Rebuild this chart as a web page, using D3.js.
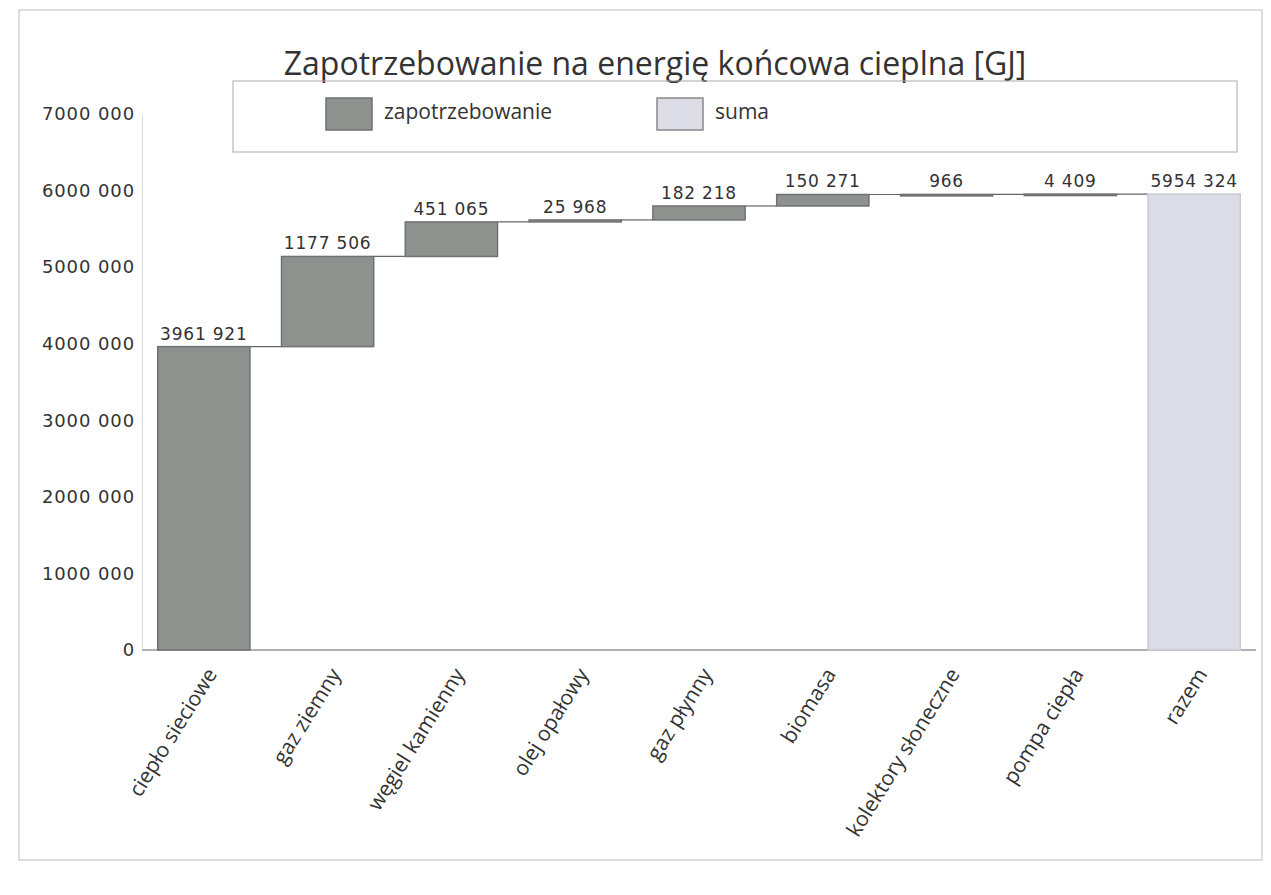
<!DOCTYPE html>
<html>
<head>
<meta charset="utf-8">
<script src="https://cdn.jsdelivr.net/npm/d3@7"></script>
<style>
body { margin: 0; background: #fff; }
text { font-family: "Open Sans", "Noto Sans", sans-serif; fill: #333; }
.num { font-family: "DejaVu Sans", Verdana, sans-serif; }
</style>
</head>
<body>
<script>
const categories = ["ciepło sieciowe", "gaz ziemny", "węgiel kamienny", "olej opałowy", "gaz płynny", "biomasa", "kolektory słoneczne", "pompa ciepła", "razem"];
const values = [3961921, 1177506, 451065, 25968, 182218, 150271, 966, 4409];
const yTicks = [0, 1000000, 2000000, 3000000, 4000000, 5000000, 6000000, 7000000];
const legendLabels = ["zapotrzebowanie", "suma"];

const width = 1271, height = 895;
const margin = { left: 142, right: 15, top: 114, bottom: 245 };

// build waterfall steps
let run = 0;
const steps = values.map((v, i) => {
    const s = { cat: categories[i], start: run, end: run + v, value: v, total: false };
    run += v;
    return s;
});
steps.push({ cat: categories[categories.length - 1], start: 0, end: run, value: run, total: true });

// Excel-ish "### ###" format
function fmt(v) {
    if (v < 1000) return String(v);
    return Math.floor(v / 1000) + " " + String(v % 1000).padStart(3, "0");
}

const svg = d3.select("body").append("svg")
    .attr("width", width).attr("height", height);

svg.append("rect")
    .attr("x", 19).attr("y", 10).attr("width", 1243).attr("height", 850)
    .attr("fill", "none").attr("stroke", "#bbb");

const x = d3.scaleBand().domain(categories)
    .range([margin.left, width - margin.right])
    .paddingInner(0.255).paddingOuter(0.127);
const y = d3.scaleLinear().domain([0, 7000000])
    .range([650, margin.top]);

// y axis labels
const yAxis = svg.append("g").attr("transform", `translate(${margin.left},0)`)
    .call(d3.axisLeft(y).tickValues(yTicks).tickFormat(fmt).tickSize(0).tickPadding(7));
yAxis.select(".domain").attr("stroke", "#ddd");
yAxis.selectAll("text").attr("class", "num")
    .style("font-size", "18px").style("letter-spacing", "0.9px").attr("fill", "#333");

// x baseline
svg.append("line")
    .attr("x1", margin.left).attr("x2", width - margin.right)
    .attr("y1", y(0)).attr("y2", y(0))
    .attr("stroke", "#999").attr("stroke-width", 1.5);

// connectors
svg.append("g").selectAll("line")
    .data(steps.slice(0, -1))
    .enter().append("line")
    .attr("x1", d => x(d.cat) + x.bandwidth())
    .attr("x2", (d, i) => x(steps[i + 1].cat))
    .attr("y1", d => y(d.end)).attr("y2", d => y(d.end))
    .attr("stroke", "#666").attr("stroke-width", 1.2);

// bars
svg.append("g").selectAll("rect")
    .data(steps)
    .enter().append("rect")
    .attr("x", d => x(d.cat))
    .attr("width", x.bandwidth())
    .attr("y", d => y(d.end))
    .attr("height", d => Math.max(1.5, y(d.start) - y(d.end)))
    .attr("fill", d => d.total ? "#dcdce6" : "#8d928f")
    .attr("stroke", d => d.total ? "#c9c9d3" : "#6e7270")
    .attr("stroke-width", 1.5);

// value labels
svg.append("g").selectAll("text")
    .data(steps)
    .enter().append("text")
    .attr("class", "num")
    .attr("x", d => x(d.cat) + x.bandwidth() / 2)
    .attr("y", d => y(d.end) - 7)
    .attr("text-anchor", "middle")
    .style("font-size", "17px")
    .style("letter-spacing", "0.8px")
    .text(d => fmt(d.value));

// category labels
svg.append("g").selectAll("text")
    .data(categories)
    .enter().append("text")
    .attr("transform", d => `translate(${x(d) + x.bandwidth() / 2 + 14},${y(0) + 24}) rotate(-58)`)
    .attr("text-anchor", "end")
    .style("font-size", "21px")
    .text(d => d);

// title
svg.append("text")
    .attr("x", 655).attr("y", 75)
    .attr("text-anchor", "middle")
    .style("font-size", "32px")
    .text("Zapotrzebowanie na energię końcowa cieplna [GJ]");

// legend
svg.append("rect")
    .attr("x", 233).attr("y", 81).attr("width", 1004).attr("height", 71)
    .attr("fill", "none").attr("stroke", "#aaa");
const legendX = [326, 657];
const legendFill = ["#8d928f", "#dcdce6"];
const legendStroke = ["#6e7270", "#888"];
legendLabels.forEach((l, i) => {
    svg.append("rect")
        .attr("x", legendX[i]).attr("y", 98).attr("width", 46).attr("height", 32)
        .attr("fill", legendFill[i]).attr("stroke", legendStroke[i]).attr("stroke-width", 1.5);
    svg.append("text")
        .attr("x", legendX[i] + 58).attr("y", 119)
        .style("font-size", "21px")
        .text(l);
});
</script>
</body>
</html>
